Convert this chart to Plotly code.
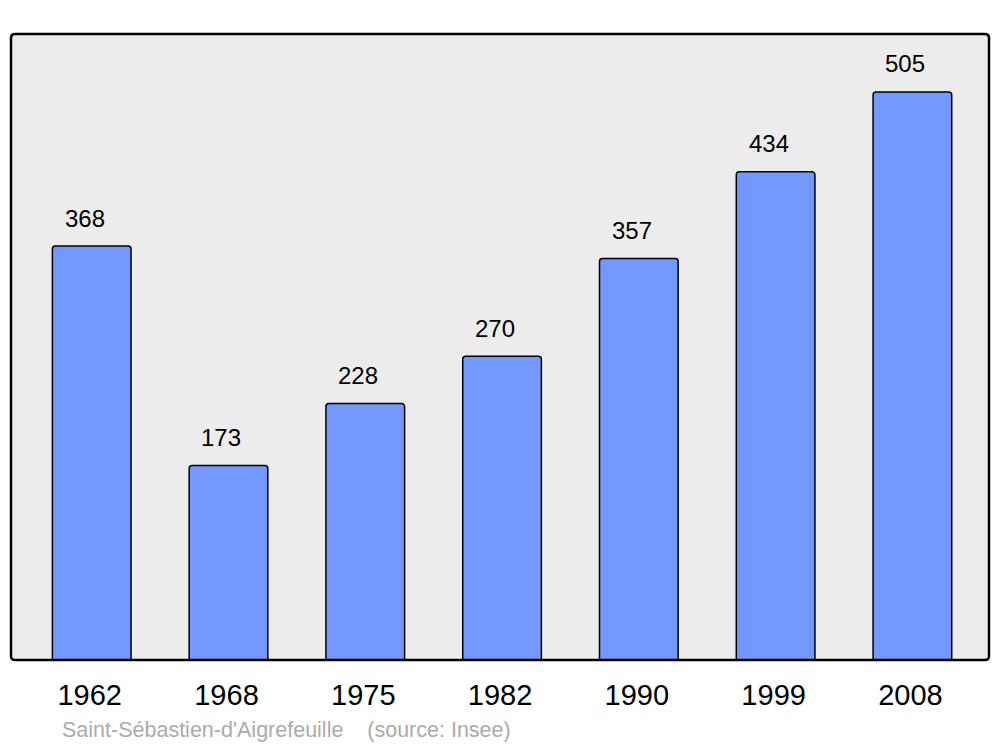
import plotly.graph_objects as go

years = ["1962", "1968", "1975", "1982", "1990", "1999", "2008"]
population = [368, 173, 228, 270, 357, 434, 505]
source_label = "Saint-Sébastien-d'Aigrefeuille    (source: Insee)"

W, H = 1000, 747
BODY = 8  # default page margin of the html body
ml, mr, mt, mb = 11 - BODY, 11 + BODY, 34 - BODY, 87 + BODY
pw, ph = W - ml - mr, H - mt - mb
rx, ry = 4 / pw, 4 / ph

fig = go.Figure()
fig.add_trace(go.Bar(
    x=list(range(len(years))), y=population,
    width=0.575,
    marker=dict(color="#7398ff", line=dict(color="black", width=1.5), cornerradius=3),
    hoverinfo="skip",
))

for i, v in enumerate(population):
    fig.add_annotation(x=i, y=v, text=str(v), showarrow=False, yanchor="middle",
                       yshift=28, xshift=-7,
                       font=dict(size=24, color="black", family="Liberation Sans"))

frame = (f"M {rx},0 L {1-rx},0 Q 1,0 1,{ry} L 1,{1-ry} Q 1,1 {1-rx},1 "
         f"L {rx},1 Q 0,1 0,{1-ry} L 0,{ry} Q 0,0 {rx},0 Z")
fig.add_shape(type="path", path=frame, xref="paper", yref="paper",
              fillcolor="#ececec", line=dict(width=0), layer="below")
fig.add_shape(type="path", path=frame, xref="paper", yref="paper",
              line=dict(color="black", width=2.5), layer="above")

fig.add_annotation(x=(60 - BODY - ml) / pw, y=0, xref="paper", yref="paper",
                   xanchor="left", yanchor="middle", yshift=-70,
                   text=source_label, showarrow=False,
                   font=dict(size=21.5, color="#ababab", family="Liberation Sans"))

fig.update_layout(
    width=W, height=H,
    margin=dict(l=ml, r=mr, t=mt, b=mb, pad=0),
    paper_bgcolor="white", plot_bgcolor="rgba(0,0,0,0)",
    showlegend=False,
    xaxis=dict(range=[-0.59, 6.56], tickmode="array",
               tickvals=list(range(len(years))), ticktext=years,
               showgrid=False, zeroline=False, showline=False, ticks="",
               ticklabelstandoff=15, ticklabelshift=-2,
               tickfont=dict(size=29, color="black", family="Liberation Sans")),
    yaxis=dict(range=[0, 556.5], showgrid=False, zeroline=False,
               showticklabels=False, showline=False, ticks=""),
)

fig.write_html("out.html")
